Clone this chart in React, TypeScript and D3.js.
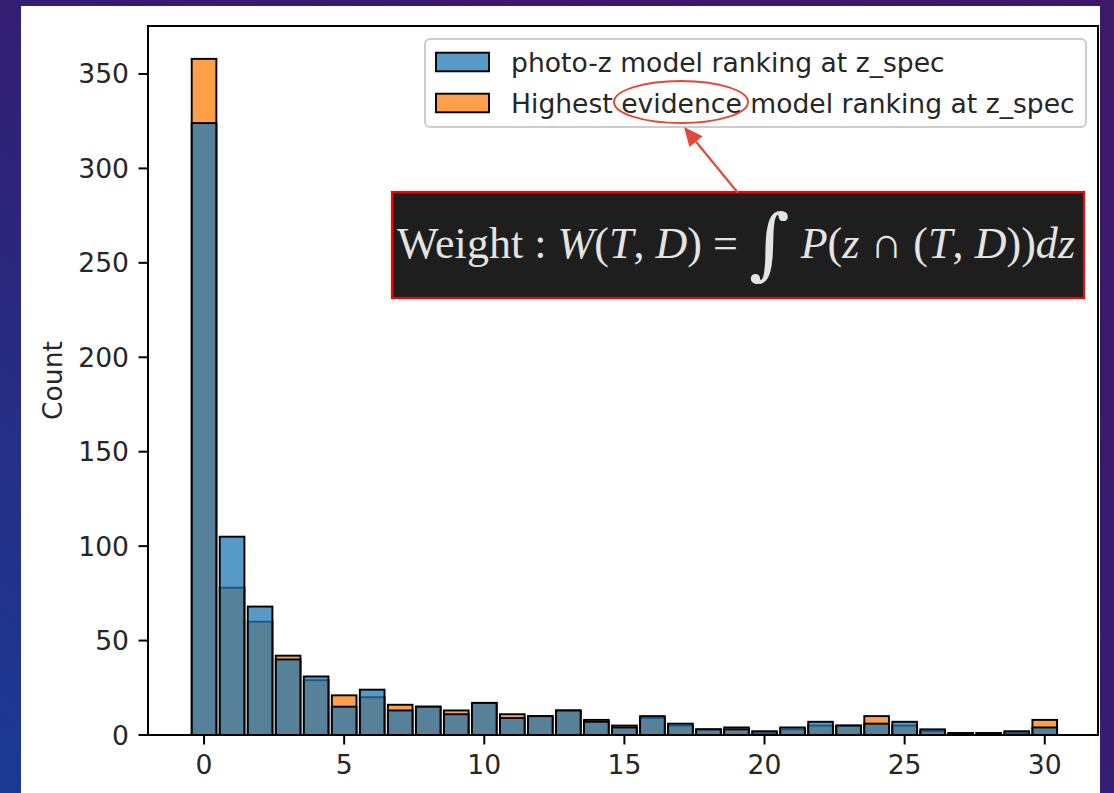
import React from "react";
import * as d3 from "d3";

// Integer-valued bins (discrete histogram)
const bins = [0, 1, 2, 3, 4, 5, 6, 7, 8, 9, 10, 11, 12, 13, 14, 15, 16, 17, 18, 19, 20, 21, 22, 23, 24, 25, 26, 27, 28, 29, 30];
// Counts per bin for each ranking
const photoZCounts = [324, 105, 68, 40, 31, 15, 24, 13, 15, 11, 17, 9, 10, 13, 7, 4, 10, 6, 3, 3, 2, 4, 7, 5, 6, 7, 3, 1, 1, 2, 4];
const evidenceCounts = [358, 78, 60, 42, 29, 21, 20, 16, 15, 13, 17, 11, 10, 13, 8, 5, 9, 5, 3, 4, 1, 3, 5, 5, 10, 5, 2, 1, 1, 1, 8];

const xTicks = [0, 5, 10, 15, 20, 25, 30];
const yTicks = [0, 50, 100, 150, 200, 250, 300, 350];

const seriesLabels = ["photo-z model ranking at z_spec", "Highest evidence model ranking at z_spec"];
const seriesColors = ["#1f77b4", "#ff7f0e"];

const W = 1114;
const H = 793;
const FONT = "DejaVu Sans";
const FS = 26.6;

export default function App() {
  const x = d3.scaleLinear().domain([-2, 31.9]).range([148, 1098]);
  const y = d3.scaleLinear().domain([0, 375.4]).range([735, 26]);
  const barW = 0.88;
  const plot = { left: x.range()[0], right: x.range()[1], top: y.range()[1], bottom: y.range()[0] };

  // annotation arrow geometry
  const start = [738, 193];
  const tip = [684, 127];
  const dx = tip[0] - start[0];
  const dy = tip[1] - start[1];
  const len = Math.hypot(dx, dy);
  const ux = dx / len, uy = dy / len;
  const headL = 19, headW = 8.5;
  const base = [tip[0] - ux * headL, tip[1] - uy * headL];
  const px = -uy, py = ux;
  const head = [
    tip,
    [base[0] + px * headW, base[1] + py * headW],
    [base[0] - px * headW, base[1] - py * headW],
  ];

  const bars = (counts: number[], color: string, key: string) =>
    bins.map((b, i) => (
      <rect
        key={key + b}
        x={x(b - barW / 2)}
        y={y(counts[i])}
        width={x(b + barW / 2) - x(b - barW / 2)}
        height={y(0) - y(counts[i])}
        fill={color}
        fillOpacity={0.75}
        stroke="#000"
        strokeWidth={1.9}
      />
    ));

  const legendRows = [0, 1];

  return (
    <svg width={W} height={H} style={{ position: "absolute", left: 0, top: 0 }} fontFamily={FONT}>
      <defs>
        <linearGradient id="slideBg" x1="1" y1="0" x2="0" y2="1">
          <stop offset="0" stopColor="#3f1869" />
          <stop offset="0.45" stopColor="#361c70" />
          <stop offset="1" stopColor="#1b3a94" />
        </linearGradient>
      </defs>
      <rect width={W} height={H} fill="url(#slideBg)" />
      <rect x={21} y={6} width={1079} height={H - 6} fill="#fff" />

      {/* histogram layers: evidence ranking underneath, photo-z on top */}
      <g>{bars(evidenceCounts, seriesColors[1], "e")}</g>
      <g>{bars(photoZCounts, seriesColors[0], "p")}</g>

      {/* spines */}
      <rect
        x={plot.left}
        y={plot.top}
        width={plot.right - plot.left}
        height={plot.bottom - plot.top}
        fill="none"
        stroke="#000"
        strokeWidth={2}
      />

      {/* y axis */}
      {yTicks.map((t) => (
        <g key={"y" + t}>
          <line x1={plot.left - 9.5} x2={plot.left} y1={y(t)} y2={y(t)} stroke="#000" strokeWidth={2} />
          <text x={plot.left - 19} y={y(t)} textAnchor="end" dominantBaseline="central" fontSize={FS} fill="#262626">
            {t}
          </text>
        </g>
      ))}
      <text
        transform={`translate(52,${(plot.top + plot.bottom) / 2}) rotate(-90)`}
        textAnchor="middle"
        dominantBaseline="central"
        fontSize={FS}
        fill="#262626"
      >
        Count
      </text>

      {/* x axis */}
      {xTicks.map((t) => (
        <g key={"x" + t}>
          <line x1={x(t)} x2={x(t)} y1={plot.bottom} y2={plot.bottom + 9.5} stroke="#000" strokeWidth={2} />
          <text x={x(t)} y={plot.bottom + 29} textAnchor="middle" dominantBaseline="central" fontSize={FS} fill="#262626">
            {t}
          </text>
        </g>
      ))}

      {/* legend */}
      <rect x={425} y={39} width={661} height={88} rx={5} fill="#fff" fillOpacity={0.8} stroke="#cccccc" strokeWidth={2} />
      {legendRows.map((r) => (
        <g key={"l" + r}>
          <rect
            x={436}
            y={62 + r * 41 - 9.3}
            width={53}
            height={18.6}
            fill={seriesColors[r]}
            fillOpacity={0.75}
            stroke="#000"
            strokeWidth={1.9}
          />
          <text x={511} y={62 + r * 41} dominantBaseline="central" fontSize={FS} fill="#262626">
            {seriesLabels[r]}
          </text>
        </g>
      ))}

      {/* annotation: weight definition */}
      <rect x={392} y={192} width={692} height={106} fill="#1e1e1e" stroke="#ff0000" strokeWidth={2.2} />
      <text x={397} y={258} fill="#e4e4e4" fontFamily="Liberation Serif" fontSize={44} textLength={678} lengthAdjust="spacing">
        <tspan>Weight</tspan>
        <tspan> : </tspan>
        <tspan fontStyle="italic">W</tspan>
        <tspan>(</tspan>
        <tspan fontStyle="italic">T</tspan>
        <tspan>, </tspan>
        <tspan fontStyle="italic">D</tspan>
        <tspan>) = </tspan>
        <tspan fontFamily="DejaVu Serif" fontSize={78} dy={12}>∫</tspan>
        <tspan dy={-12}> </tspan>
        <tspan fontStyle="italic">P</tspan>
        <tspan>(</tspan>
        <tspan fontStyle="italic">z</tspan>
        <tspan> ∩ (</tspan>
        <tspan fontStyle="italic">T</tspan>
        <tspan>, </tspan>
        <tspan fontStyle="italic">D</tspan>
        <tspan>))</tspan>
        <tspan fontStyle="italic">dz</tspan>
      </text>

      {/* highlight around "evidence" and pointer */}
      <ellipse cx={681} cy={102} rx={67} ry={21} fill="none" stroke="#e2483c" strokeWidth={2} />
      <line x1={start[0]} y1={start[1]} x2={base[0]} y2={base[1]} stroke="#e2483c" strokeWidth={2.2} />
      <polygon points={head.map((p) => p.join(",")).join(" ")} fill="#e2483c" />
    </svg>
  );
}
